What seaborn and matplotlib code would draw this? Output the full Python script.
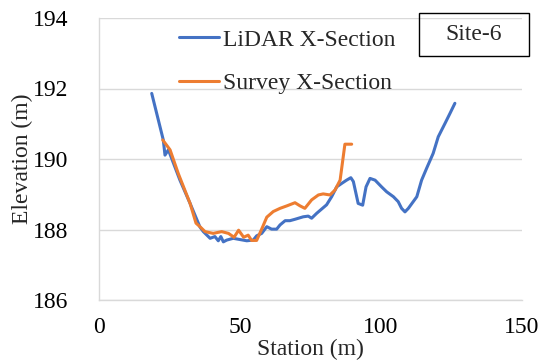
import matplotlib
matplotlib.use("Agg")
import matplotlib.pyplot as plt
from matplotlib.patches import Rectangle
import pandas as pd
import seaborn as sns

# Cross-section profiles (station in m, elevation in m)
lidar_station = [18.7, 22.8, 23.4, 24.6, 28.7, 32.3, 35.8, 37.0, 39.4, 41.1,
                 42.3, 43.2, 44.1, 45.3, 47.6, 52.4, 54.7, 55.9, 57.7, 59.5,
                 61.2, 63.0, 64.2, 66.0, 67.7, 69.5, 72.4, 74.2, 75.4, 77.2,
                 80.7, 82.5, 84.3, 86.1, 87.8, 89.3, 90.2, 91.9, 93.5, 94.7,
                 96.1, 97.9, 100.2, 102.0, 104.4, 106.1, 107.3, 108.5, 109.7, 112.7,
                 114.4, 116.2, 118.5, 120.3, 122.7, 124.5, 126.2]
lidar_elev = [191.86, 190.54, 190.11, 190.26, 189.40, 188.74, 188.07, 187.94, 187.75, 187.80,
              187.68, 187.80, 187.65, 187.70, 187.75, 187.68, 187.70, 187.82, 187.89, 188.08,
              188.01, 188.01, 188.13, 188.25, 188.25, 188.29, 188.36, 188.38, 188.32, 188.46,
              188.70, 188.93, 189.21, 189.31, 189.40, 189.47, 189.36, 188.74, 188.69, 189.21,
              189.45, 189.40, 189.21, 189.07, 188.93, 188.79, 188.60, 188.50, 188.60, 188.93,
              189.40, 189.74, 190.16, 190.63, 191.01, 191.30, 191.58]

survey_station = [22.6, 25.2, 28.1, 32.3, 34.4, 35.8, 37.6, 40.5, 43.5, 45.9,
                  47.9, 49.5, 51.3, 52.9, 54.1, 55.9, 57.9, 59.5, 61.8, 64.2,
                  66.6, 69.5, 71.3, 73.0, 75.4, 77.8, 79.5, 81.9, 83.7, 85.5,
                  87.2, 89.6]
survey_elev = [190.54, 190.26, 189.59, 188.74, 188.18, 188.08, 187.94, 187.89, 187.94, 187.89,
               187.78, 187.98, 187.78, 187.84, 187.69, 187.69, 188.05, 188.35, 188.51, 188.60,
               188.67, 188.76, 188.67, 188.60, 188.84, 188.98, 189.01, 188.98, 189.12, 189.40,
               190.42, 190.42]

x_ticks = [0, 50, 100, 150]
y_ticks = [186, 188, 190, 192, 194]
site_label = "Site-6"

sns.set_style("white")
plt.rcParams["font.family"] = ["Liberation Serif", "DejaVu Serif"]

fig = plt.figure(figsize=(5.48, 3.62), dpi=100)
ax = fig.add_axes([99 / 548, 1 - 300 / 362, (522 - 99) / 548, (300 - 18) / 362])

lidar = pd.DataFrame({"Station": lidar_station, "Elevation": lidar_elev})
survey = pd.DataFrame({"Station": survey_station, "Elevation": survey_elev})

sns.lineplot(data=lidar, x="Station", y="Elevation", ax=ax, color="#4472C4",
             linewidth=2.2, sort=False, estimator=None, label="LiDAR X-Section")
sns.lineplot(data=survey, x="Station", y="Elevation", ax=ax, color="#ED7D31",
             linewidth=2.2, sort=False, estimator=None, label="Survey X-Section")

ax.set_xlim(0, 150)
ax.set_ylim(186, 194)
ax.set_xticks(x_ticks)
ax.set_yticks(y_ticks)
ax.tick_params(axis="both", length=0, labelsize=17, colors="black")
ax.tick_params(axis="x", pad=12)
ax.tick_params(axis="y", pad=22)

ax.grid(axis="y", color="#d9d9d9", linewidth=1.0)
ax.grid(axis="x", visible=False)
for side in ("top", "right"):
    ax.spines[side].set_visible(False)
for side in ("left", "bottom"):
    ax.spines[side].set_color("#d9d9d9")
    ax.spines[side].set_linewidth(1.0)

ax.set_xlabel("Station (m)", fontsize=17, labelpad=1)
ax.set_ylabel("Elevation (m)", fontsize=17, labelpad=0)

ax.legend(loc="upper left", bbox_to_anchor=(179 / 548, 1 - 29 / 362),
          bbox_transform=fig.transFigure, frameon=False, fontsize=17,
          handlelength=1.7, handletextpad=0.15, labelspacing=0.95,
          borderpad=0, borderaxespad=0)

# Site label box
fig.patches.append(Rectangle((419 / 548, 1 - 56 / 362), (529 - 419) / 548, (56 - 13) / 362,
                             transform=fig.transFigure, fill=False,
                             edgecolor="black", linewidth=1.0))
fig.text(474 / 548, 1 - 35 / 362, site_label, ha="center", va="center", fontsize=17)

fig.savefig("out.png", dpi=100)
